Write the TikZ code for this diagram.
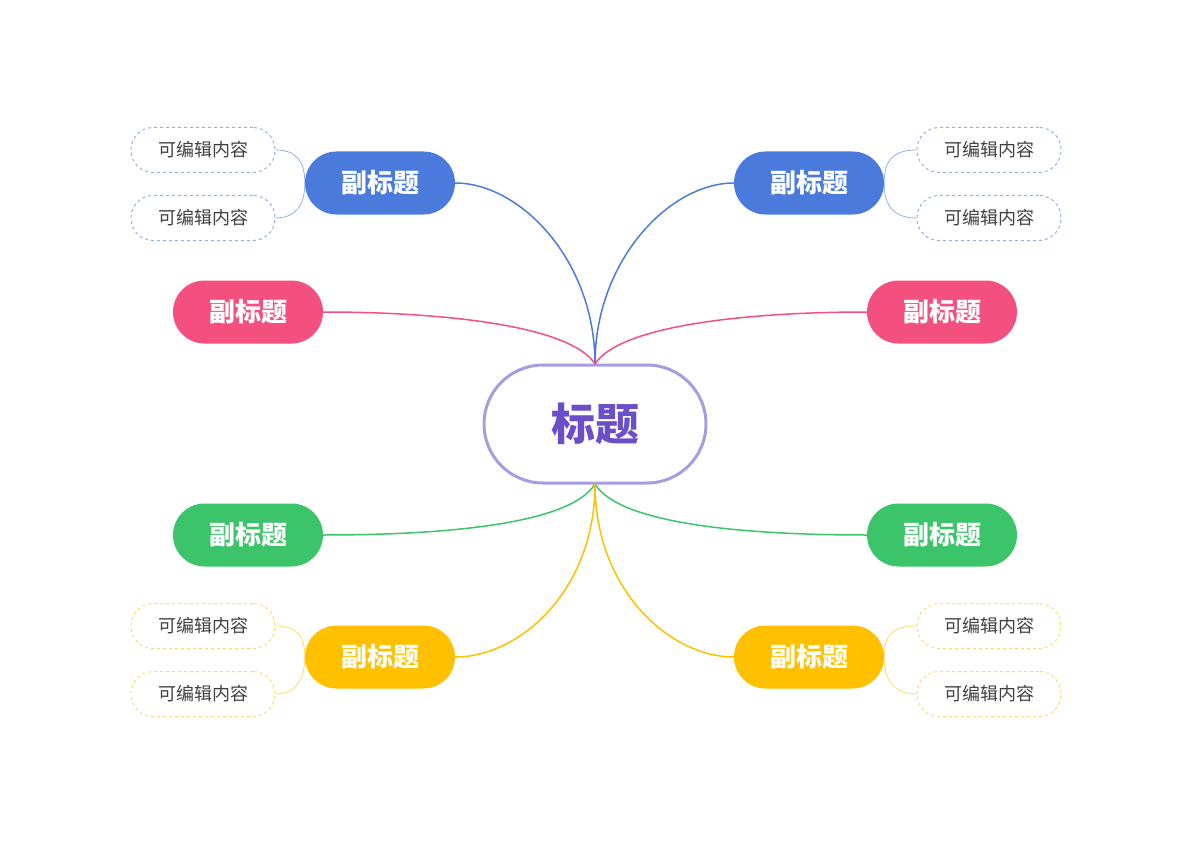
\documentclass[tikz,border=0pt]{standalone}
\usepackage{fontspec}
\setmainfont{Noto Sans CJK SC}
\definecolor{cblue}{HTML}{4A7BDC}
\definecolor{cpink}{HTML}{F4507F}
\definecolor{cgreen}{HTML}{3CC46A}
\definecolor{cyel}{HTML}{FFC000}
\definecolor{cpur}{HTML}{A99BE0}
\definecolor{ctxt}{HTML}{6A4FC8}
\begin{document}
\begin{tikzpicture}[x=1pt,y=-1pt,
 sub/.style={rounded corners=31.5pt,minimum width=150pt,minimum height=63pt,text=white,font=\fontsize{26}{26}\selectfont\bfseries,inner sep=0pt},
 leaf/.style={draw=#1!60,dashed,line width=1pt,rounded corners=22pt,minimum width=144pt,minimum height=45pt,text=black!75,font=\fontsize{18}{18}\selectfont,inner sep=0pt},
 con/.style={draw=#1,line width=1.5pt},
 lcon/.style={draw=#1!60,line width=0.8pt}]
\useasboundingbox (0,0) rectangle (1200,848);
\node[draw=cpur,line width=3pt,rounded corners=59pt,minimum width=222pt,minimum height=118pt,text=ctxt,font=\fontsize{44}{44}\selectfont\bfseries] (c) at (595,424) {标题};
\node[sub,fill=cblue] (b1) at (380,183) {副标题};
\node[sub,fill=cblue] (b2) at (809,183) {副标题};
\node[sub,fill=cpink] (p1) at (248,312) {副标题};
\node[sub,fill=cpink] (p2) at (942,312) {副标题};
\node[sub,fill=cgreen] (g1) at (248,535) {副标题};
\node[sub,fill=cgreen] (g2) at (942,535) {副标题};
\node[sub,fill=cyel] (y1) at (380,657) {副标题};
\node[sub,fill=cyel] (y2) at (809,657) {副标题};
\node[leaf=cblue] (l1) at (203,150) {可编辑内容};
\node[leaf=cblue] (l2) at (203,218) {可编辑内容};
\node[leaf=cblue] (l3) at (989,150) {可编辑内容};
\node[leaf=cblue] (l4) at (989,218) {可编辑内容};
\node[leaf=cyel] (l5) at (203,626) {可编辑内容};
\node[leaf=cyel] (l6) at (203,694) {可编辑内容};
\node[leaf=cyel] (l7) at (989,626) {可编辑内容};
\node[leaf=cyel] (l8) at (989,694) {可编辑内容};
\coordinate (ct) at (595,364);
\coordinate (cb) at (595,484);
\draw[con=cblue] (ct) .. controls (595,260) and (520,183) .. (b1.east);
\draw[con=cblue] (ct) .. controls (595,260) and (670,183) .. (b2.west);
\draw[con=cpink] (ct) .. controls (570,325) and (440,312) .. (p1.east);
\draw[con=cpink] (ct) .. controls (620,325) and (750,312) .. (p2.west);
\draw[con=cgreen] (cb) .. controls (570,525) and (440,535) .. (g1.west -| g1.east);
\draw[con=cgreen] (cb) .. controls (620,525) and (750,535) .. (g2.west);
\draw[con=cyel] (cb) .. controls (595,590) and (520,657) .. (y1.east);
\draw[con=cyel] (cb) .. controls (595,590) and (670,657) .. (y2.west);
\draw[lcon=cblue] (b1.west) .. controls (305,160) and (295,150) .. (l1.east);
\draw[lcon=cblue] (b1.west) .. controls (305,206) and (295,218) .. (l2.east);
\draw[lcon=cblue] (b2.east) .. controls (884,160) and (894,150) .. (l3.west);
\draw[lcon=cblue] (b2.east) .. controls (884,206) and (894,218) .. (l4.west);
\draw[lcon=cyel] (y1.west) .. controls (305,634) and (295,626) .. (l5.east);
\draw[lcon=cyel] (y1.west) .. controls (305,680) and (295,694) .. (l6.east);
\draw[lcon=cyel] (y2.east) .. controls (884,634) and (894,626) .. (l7.west);
\draw[lcon=cyel] (y2.east) .. controls (884,680) and (894,694) .. (l8.west);
\end{tikzpicture}
\end{document}
